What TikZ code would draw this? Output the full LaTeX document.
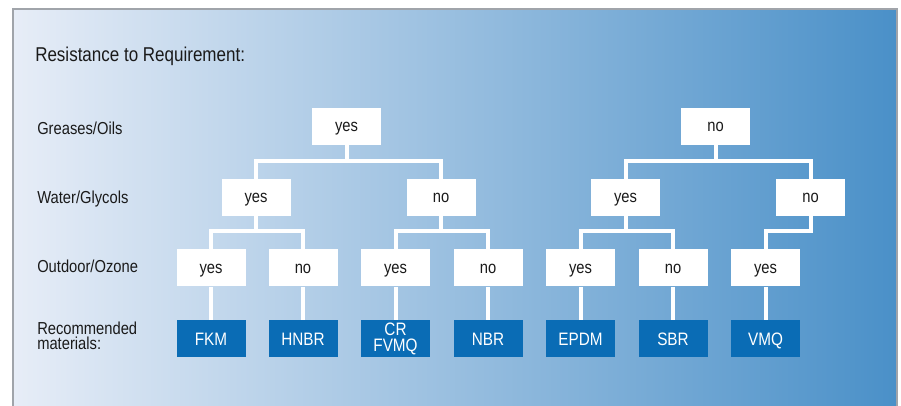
\documentclass[tikz,border=0pt]{standalone}
\usepackage{fontspec}
\setmainfont[FakeStretch=0.85]{Liberation Sans}
\usepackage{tikz}
\usepackage{xcolor}

\definecolor{matblue}{RGB}{10,108,181}
\definecolor{bgleft}{RGB}{231,237,247}
\definecolor{bgmid}{RGB}{166,193,226}
\definecolor{bgright}{RGB}{74,144,200}
\definecolor{framegray}{RGB}{160,164,170}
\definecolor{inkgray}{RGB}{26,26,26}

\begin{document}
\begin{tikzpicture}[x=0.75pt,y=0.75pt,yscale=-1,xscale=1,
  ans/.style={fill=white, text=inkgray, minimum width=51.75pt, minimum height=27.75pt, inner sep=0pt,
    text height=8pt, text depth=0pt, font=\fontsize{13}{13}\selectfont},
  mat/.style={fill=matblue, text=white, minimum width=51.75pt, minimum height=27.75pt, inner sep=0pt,
    align=center, font=\fontsize{13.5}{12}\selectfont},
  matline/.style={mat, text height=11pt, text depth=0pt},
  rowlab/.style={anchor=west, inner sep=0pt, text=inkgray, align=left, font=\fontsize{13}{11.5}\selectfont},
  link/.style={draw=white, line width=3pt}]

\useasboundingbox (0,0) rectangle (901,406);

\shade[left color=bgleft, middle color=bgmid, right color=bgright] (13,9) rectangle (897,406);
\draw[color=framegray, line width=1.5pt] (13,406) -- (13,9) -- (897,9) -- (897,406);

\node[rowlab, font=\fontsize{15}{16}\selectfont] (title) at (35,56) {Resistance to Requirement:};
\node[rowlab] (labOil) at (37,128) {Greases/Oils};
\node[rowlab] (labWat) at (37,199) {Water/Glycols};
\node[rowlab] (labOzo) at (37,266) {Outdoor/Ozone};
\node[rowlab] (labMat) at (37,336) {Recommended\\materials:};

\node[ans] (oilY) at (346.5,126.5) {yes};
\node[ans] (oilN) at (715.5,126.5) {no};

\node[ans] (watY1) at (256,197.5) {yes};
\node[ans] (watN1) at (441,197.5) {no};
\node[ans] (watY2) at (625.5,197.5) {yes};
\node[ans] (watN2) at (810.5,197.5) {no};

\node[ans] (ozoY1) at (211,268) {yes};
\node[ans] (ozoN1) at (303,268) {no};
\node[ans] (ozoY2) at (395.5,268) {yes};
\node[ans] (ozoN2) at (488,268) {no};
\node[ans] (ozoY3) at (580.5,268) {yes};
\node[ans] (ozoN3) at (673,268) {no};
\node[ans] (ozoY4) at (765.5,268) {yes};

\node[matline] (fkm) at (211,338.5) {FKM};
\node[matline] (hnbr) at (303,338.5) {HNBR};
\node[mat] (crfvmq) at (395.5,338.5) {CR\\FVMQ};
\node[matline] (nbr) at (488,338.5) {NBR};
\node[matline] (epdm) at (580.5,338.5) {EPDM};
\node[matline] (sbr) at (673,338.5) {SBR};
\node[matline] (vmq) at (765.5,338.5) {VMQ};

\draw[link] (oilY.south) -- ++(0,16) -| (watY1.north);
\draw[link] (oilY.south) -- ++(0,16) -| (watN1.north);
\draw[link] (oilN.south) -- ++(0,16) -| (watY2.north);
\draw[link] (oilN.south) -- ++(0,16) -| (watN2.north);

\draw[link] (watY1.south) -- ++(0,15) -| (ozoY1.north);
\draw[link] (watY1.south) -- ++(0,15) -| (ozoN1.north);
\draw[link] (watN1.south) -- ++(0,15) -| (ozoY2.north);
\draw[link] (watN1.south) -- ++(0,15) -| (ozoN2.north);
\draw[link] (watY2.south) -- ++(0,15) -| (ozoY3.north);
\draw[link] (watY2.south) -- ++(0,15) -| (ozoN3.north);
\draw[link] (watN2.south) -- ++(0,15) -| (ozoY4.north);

\draw[link] (ozoY1) -- (fkm);
\draw[link] (ozoN1) -- (hnbr);
\draw[link] (ozoY2) -- (crfvmq);
\draw[link] (ozoN2) -- (nbr);
\draw[link] (ozoY3) -- (epdm);
\draw[link] (ozoN3) -- (sbr);
\draw[link] (ozoY4) -- (vmq);
\end{tikzpicture}
\end{document}
